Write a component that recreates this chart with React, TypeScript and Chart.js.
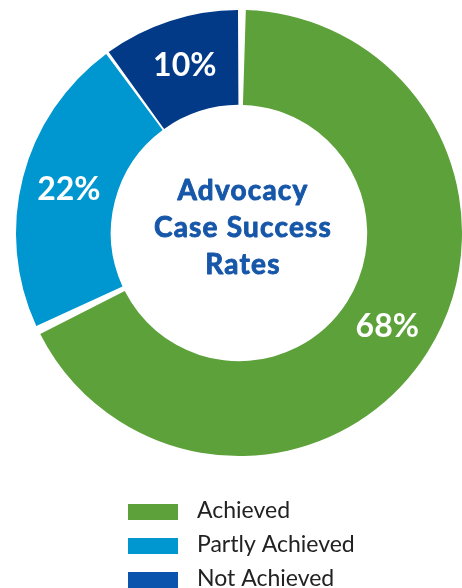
import React, { useEffect, useRef } from "react";
import { Chart, registerables } from "chart.js";

Chart.register(...registerables);

const categories = ["Achieved", "Partly Achieved", "Not Achieved"];
const values = [68, 22, 10];
const sliceColors = ["#5da13a", "#0096d0", "#023a88"];
const legendColors = ["#5da13a", "#0096d0", "#0b54ad"];
const centerTitle = ["Advocacy", "Case Success", "Rates"];

const overlayPlugin = {
  id: "overlay",
  afterDatasetsDraw(chart: any) {
    const { ctx } = chart;
    const meta = chart.getDatasetMeta(0);
    const data = chart.data.datasets[0].data as number[];
    ctx.save();
    // slice labels
    ctx.fillStyle = "#ffffff";
    ctx.font = "bold 32px Lato";
    ctx.textAlign = "center";
    ctx.textBaseline = "middle";
    meta.data.forEach((arc: any, i: number) => {
      const p = arc.getCenterPoint();
      ctx.fillText(`${data[i]}%`, p.x, p.y);
    });
    // center title
    const first = meta.data[0];
    const cx = first.x + 4;
    const cy = first.y;
    ctx.fillStyle = "#1757a9";
    ctx.strokeStyle = "#1757a9";
    ctx.lineWidth = 0.9;
    ctx.lineJoin = "round";
    ctx.font = "bold 28px Lato";
    (ctx as any).letterSpacing = "1.2px";
    ctx.textBaseline = "alphabetic";
    const lh = 37;
    centerTitle.forEach((line, i) => {
      ctx.fillText(line, cx, cy - 33 + i * lh);
      ctx.strokeText(line, cx, cy - 33 + i * lh);
    });
    (ctx as any).letterSpacing = "0px";
    // legend
    const labels = chart.data.labels as string[];
    ctx.textAlign = "left";
    ctx.textBaseline = "middle";
    ctx.font = "23px Lato";
    labels.forEach((lab, i) => {
      const y = 512 + i * 34;
      ctx.fillStyle = legendColors[i];
      ctx.fillRect(128, y - 8, 50, 16);
      ctx.fillStyle = "#222222";
      ctx.fillText(lab, 197, y - 1);
    });
    ctx.restore();
  },
};

export default function App() {
  const ref = useRef<HTMLCanvasElement>(null);
  useEffect(() => {
    if (!ref.current) return;
    const chart = new Chart(ref.current, {
      type: "doughnut",
      data: {
        labels: categories,
        datasets: [
          {
            data: values,
            backgroundColor: sliceColors,
            borderWidth: 0,
            spacing: 5,
          },
        ],
      },
      options: {
        responsive: false,
        animation: false,
        cutout: "57%",
        layout: { padding: { left: 16, right: 0, top: 10, bottom: 132 } },
        plugins: {
          legend: { display: false },
          tooltip: { enabled: false },
        },
      },
      plugins: [overlayPlugin],
    });
    return () => chart.destroy();
  }, []);
  return (
    <div style={{ position: "fixed", left: 0, top: 0, width: 462, height: 588, background: "#fff" }}>
      <canvas ref={ref} width={462} height={588} style={{ width: 462, height: 588, display: "block" }} />
    </div>
  );
}
